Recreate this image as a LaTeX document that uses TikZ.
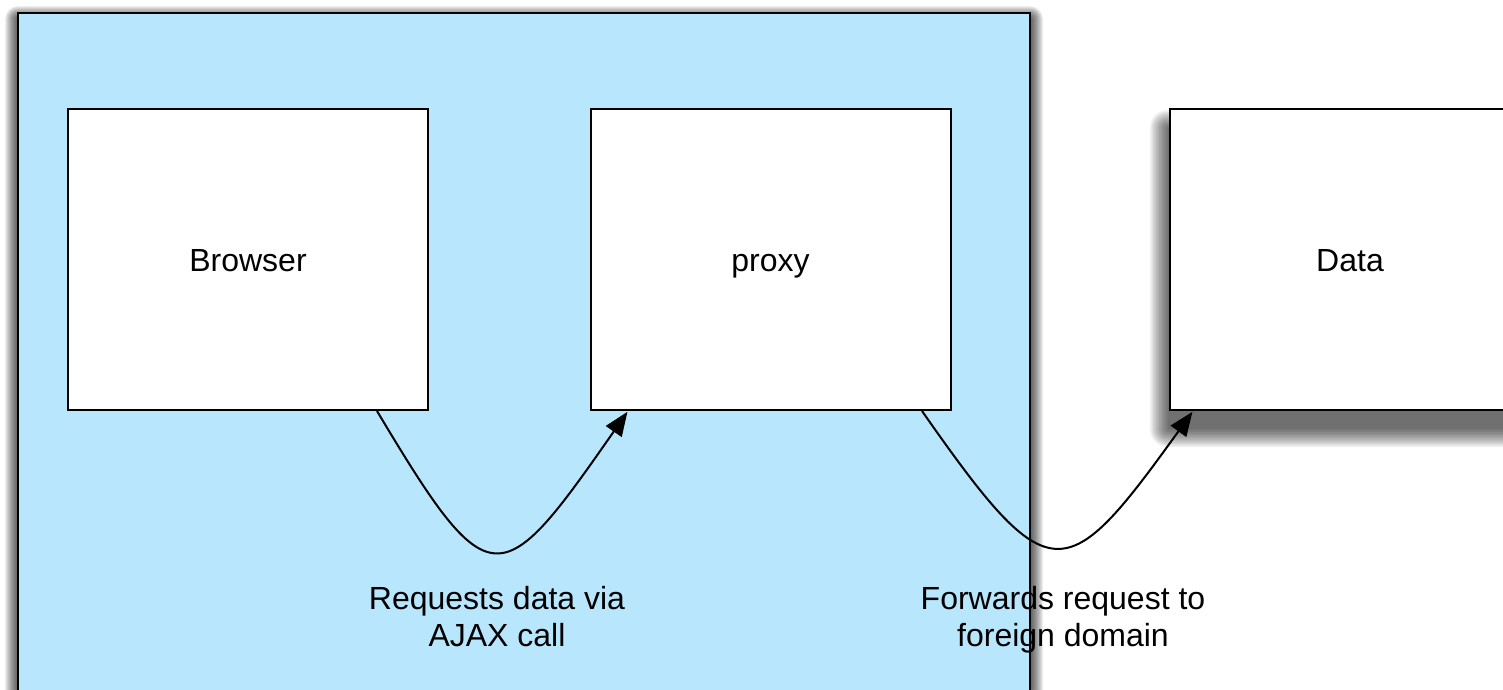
\documentclass[tikz,border=0pt]{standalone}
\usepackage{fontspec}
\setmainfont{Liberation Sans}
\usetikzlibrary{arrows.meta}
\definecolor{zoneblue}{RGB}{184,230,253}
\begin{document}
\begin{tikzpicture}[x=1pt,y=-1pt,
  zonebox/.style={draw=black,line width=2.5pt,fill=zoneblue,minimum width=1012pt,minimum height=707pt,inner sep=0pt},
  whitebox/.style={draw=black,line width=2pt,fill=white,minimum width=360pt,minimum height=301pt,inner sep=0pt,
    text height=23pt,text depth=0pt,font=\fontsize{32}{37}\selectfont},
  shadowlayer/.style={fill=black,opacity=0.065},
  conn/.style={draw=black,line width=2pt,-{Triangle[length=24pt,width=19pt]},shorten >=1pt},
  lbl/.style={align=center,inner sep=0pt,font=\fontsize{32}{37}\selectfont}]
\useasboundingbox (0,0) rectangle (1503,689);
\clip (0,0) rectangle (1503,689);
\fill[white] (0,0) rectangle (1503,689);
% shadow of the blue zone
\foreach \r in {0,1,...,13}
  \fill[shadowlayer,rounded corners=\r pt] (18-\r,19-\r) rectangle (1030+\r,730+\r);
% shadow of the Data box
\foreach \r in {0,1.5,...,18}
  \fill[shadowlayer,opacity=0.06,rounded corners=\r pt] (1168-\r,128-\r) rectangle (1540+\r,429+\r);
\node[zonebox] (zone) at (524,366.5) {};
\node[whitebox] (browser) at (248,259.5) {Browser};
\node[whitebox] (proxy) at (770.5,259.5) {proxy};
\node[whitebox] (data) at (1350,259.5) {Data};
\draw[conn] ([xshift=129pt]browser.south) .. controls (490,600) and (500,595) .. ([xshift=-142.5pt]proxy.south);
\draw[conn] ([xshift=151.5pt]proxy.south) .. controls (1050,594) and (1065,589) .. ([xshift=24pt]data.south west);
\node[lbl] (lab1) at (497,617) {Requests data via\\AJAX call};
\node[lbl] (lab2) at (1063,620) {Forwards request to\\foreign domain};
\end{tikzpicture}
\end{document}
